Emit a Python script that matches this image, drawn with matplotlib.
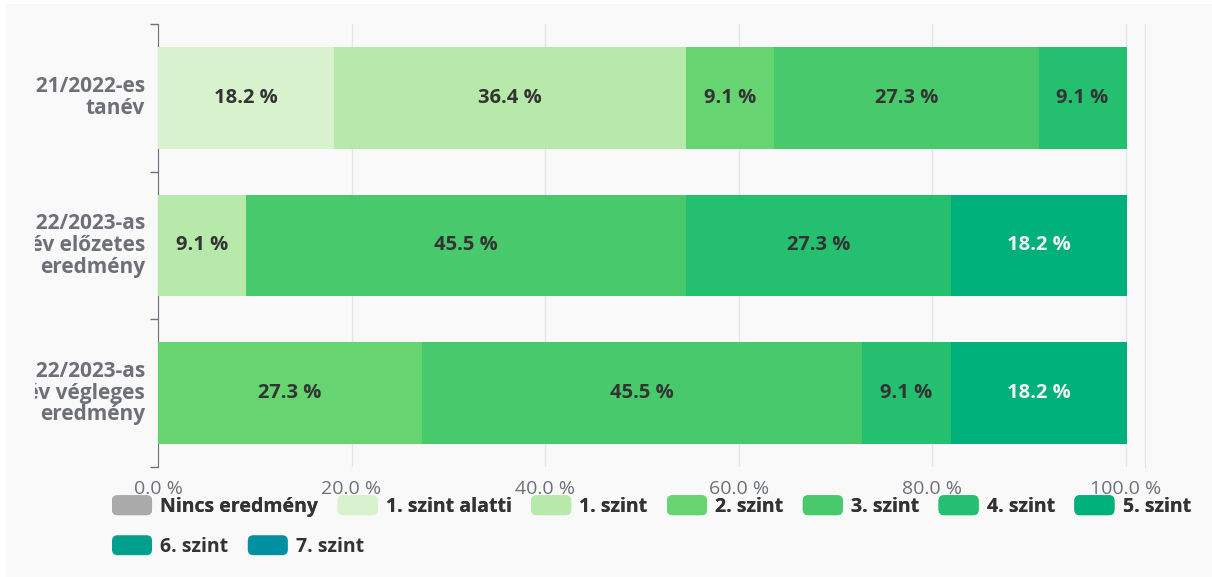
import matplotlib
matplotlib.use("Agg")
import matplotlib.pyplot as plt
from matplotlib.patches import Patch, FancyBboxPatch, Rectangle
from matplotlib.legend_handler import HandlerPatch
import matplotlib.transforms as mtransforms

plt.rcParams['font.family'] = ['Open Sans', 'DejaVu Sans']

categories = ['2021/2022-es\ntanév',
              '2022/2023-as\ntanév előzetes\neredmény',
              '2022/2023-as\ntanév végleges\neredmény']
levels = ['Nincs eredmény', '1. szint alatti', '1. szint', '2. szint', '3. szint',
          '4. szint', '5. szint', '6. szint', '7. szint']
colors = ['#aaaaaa', '#d9f2ce', '#b6e9aa', '#66d470', '#48c96b',
          '#25bf70', '#00b07b', '#00a08d', '#0090a2']

nincs = [0, 0, 0]
alatti = [18.2, 0, 0]
szint1 = [36.4, 9.1, 0]
szint2 = [9.1, 0, 27.3]
szint3 = [27.3, 45.5, 45.5]
szint4 = [9.1, 27.3, 9.1]
szint5 = [0, 18.2, 18.2]
szint6 = [0, 0, 0]
szint7 = [0, 0, 0]
series = [nincs, alatti, szint1, szint2, szint3, szint4, szint5, szint6, szint7]

xticks = [0, 20, 40, 60, 80, 100]

W, H = 1212, 577
fig = plt.figure(figsize=(W / 100, H / 100), dpi=100, facecolor='white')
fig.patches.append(Rectangle((6 / W, 0), 1, 1 - 4 / H, transform=fig.transFigure,
                             facecolor='#f9f9f9', edgecolor='none', zorder=-10))

ax = fig.add_axes([158 / W, 1 - 467 / H, (1145 - 158) / W, (467 - 24) / H])
ax.set_facecolor('none')

y = list(range(len(categories)))
left = [0.0] * len(categories)
for name, vals, col in zip(levels, series, colors):
    ax.barh(y, vals, left=left, height=0.69, color=col, edgecolor='none', zorder=3)
    for i, v in enumerate(vals):
        if v > 0:
            tc = '#f2f2f2' if name == '5. szint' else '#333333'
            ax.text(left[i] + v / 2, i, f'{v:.1f} %', ha='center', va='center',
                    fontsize=14.5, fontweight='bold', color=tc, zorder=4)
    left = [l + v for l, v in zip(left, vals)]

ax.set_xlim(0, 102)
ax.set_ylim(2.5, -0.5)
ax.set_xticks(xticks)
ax.set_xticklabels([f'{t:.1f} %' for t in xticks])
ax.tick_params(axis='x', length=0, pad=9, labelsize=14, labelcolor='#6e7079')
ax.grid(axis='x', color='#e0e6f1', linewidth=1, zorder=0)
ax.set_yticks([-0.5, 0.5, 1.5, 2.5])
ax.set_yticklabels([])
ax.tick_params(axis='y', length=6, color='#6e7079', width=1)

for s in ['top', 'bottom']:
    ax.spines[s].set_visible(False)
ax.spines['left'].set_color('#6e7079')
ax.spines['right'].set_color('#e0e6f1')

# category labels, clipped on the left like the original
clip = mtransforms.TransformedBbox(mtransforms.Bbox([[35 / W, 0], [1, 1]]), fig.transFigure)
off = mtransforms.ScaledTranslation(-13 / 100, 0, fig.dpi_scale_trans)
trans = mtransforms.blended_transform_factory(ax.transAxes, ax.transData) + off
for i, c in enumerate(categories):
    t = ax.text(0, i, c, transform=trans, ha='right', va='center', multialignment='right',
                fontsize=15, fontweight='bold', color='#6e7079', linespacing=1.05,
                clip_on=True)
    t.set_clip_box(clip)


class RoundHandler(HandlerPatch):
    def create_artists(self, legend, orig_handle, xdescent, ydescent, width, height,
                       fontsize, trans):
        p = FancyBboxPatch((-xdescent, -ydescent), width, height,
                           boxstyle='round,pad=0,rounding_size=4',
                           facecolor=orig_handle.get_facecolor(), edgecolor='none',
                           transform=trans)
        return [p]


handles = [Patch(facecolor=c, label=l) for l, c in zip(levels, colors)]
leg_kw = dict(frameon=False, borderpad=0, borderaxespad=0, handlelength=2.06,
              handleheight=1.2, handletextpad=0.42, columnspacing=1.0, loc='center left',
              prop={'weight': 'bold', 'size': 14},
              handler_map={Patch: RoundHandler()})
leg1 = fig.legend(handles=handles[:7], ncol=7, bbox_to_anchor=(112 / W, 1 - 506 / H), **leg_kw)
for t in leg1.get_texts():
    t.set_color('#333333')
leg2 = fig.legend(handles=handles[7:], ncol=2, bbox_to_anchor=(112 / W, 1 - 546 / H), **leg_kw)
for t in leg2.get_texts():
    t.set_color('#333333')
fig.add_artist(leg1)

fig.savefig('out.png', dpi=100, facecolor=fig.get_facecolor())
